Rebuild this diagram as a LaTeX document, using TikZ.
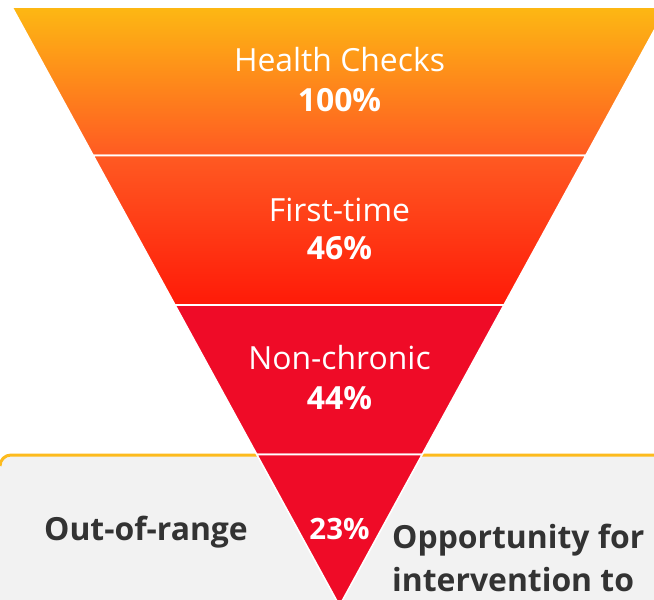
\documentclass[tikz,border=0pt]{standalone}
\usepackage{fontspec}
\setmainfont{Open Sans}
\definecolor{fyellow}{HTML}{FDB813}
\definecolor{forange}{HTML}{FF5A22}
\definecolor{fred}{HTML}{FF1A08}
\definecolor{fcrimson}{HTML}{EF0B27}
\definecolor{boxgray}{HTML}{F2F2F2}
\definecolor{boxline}{HTML}{FDBB1E}
\definecolor{darktext}{HTML}{333333}
\begin{document}
\begin{tikzpicture}[x=1bp,y=-1bp,
  band/.style={draw=white,line width=1.6bp},
  lbl/.style={text=white,font=\fontsize{32}{38}\selectfont,inner sep=0pt},
  pct/.style={text=white,font=\fontsize{32}{38}\selectfont\bfseries,inner sep=0pt},
  side/.style={text=darktext,font=\fontsize{32}{38}\selectfont\bfseries,inner sep=0pt}]
\useasboundingbox (0,0) rectangle (654,600);
\clip (0,0) rectangle (654,600);
% gray box
\fill[boxgray] (0,620) -- (0,466) arc[start angle=180,end angle=270,radius=11] -- (670,455) -- (670,620) -- cycle;
\draw[boxline,line width=3bp] (0,466) arc[start angle=180,end angle=270,radius=11] -- (670,455);
% funnel bands
\shadedraw[band,top color=fyellow,bottom color=forange] (12,7) -- (667,7) -- (585.8,155.5) -- (93.2,155.5) -- cycle;
\shadedraw[band,top color=forange,bottom color=fred] (93.2,155.5) -- (585.8,155.5) -- (504,305) -- (175,305) -- cycle;
\filldraw[band,fill=fcrimson] (175,305) -- (504,305) -- (422.2,454.5) -- (256.8,454.5) -- cycle;
\filldraw[band,fill=fcrimson] (256.8,454.5) -- (422.2,454.5) -- (339.5,605.7) -- cycle;
% labels
\node[lbl] (hc) at (339.5,60) {Health Checks};
\node[pct] (hcp) at (339.5,100) {100\%};
\node[lbl] (ft) at (339.5,210) {First-time};
\node[pct] (ftp) at (339.5,248) {46\%};
\node[lbl] (nc) at (339.5,358) {Non-chronic};
\node[pct] (ncp) at (339.5,398) {44\%};
\node[pct,font=\fontsize{29.5}{34}\selectfont\bfseries] (oop) at (339.5,529) {23\%};
\node[side] (oor) at (146,532) {Out-of-range};
\node[side,anchor=west] (opp1) at (392,540) {Opportunity for};
\node[side,anchor=west] (opp2) at (392,580) {intervention to};
\end{tikzpicture}
\end{document}
